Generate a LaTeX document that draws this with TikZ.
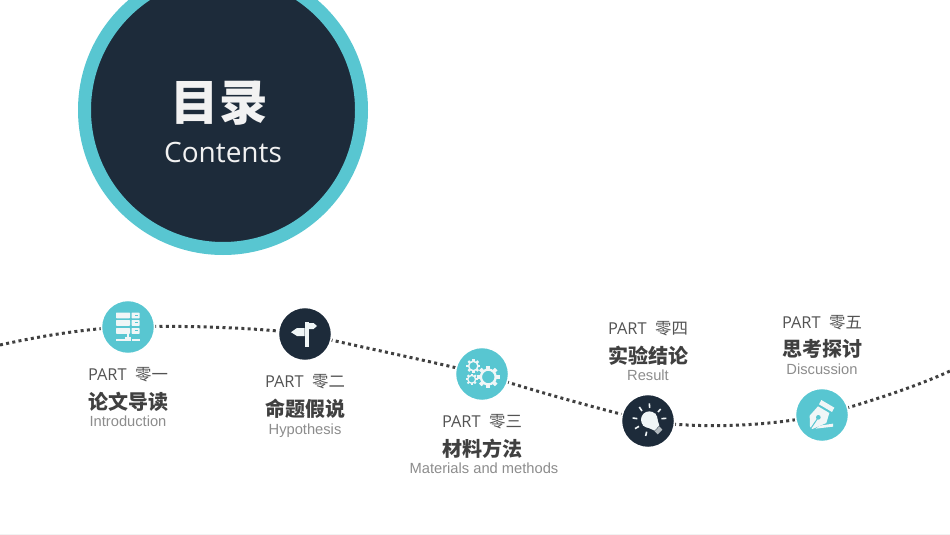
\documentclass[tikz,border=0pt]{standalone}
\usepackage{fontspec}
\setmainfont{Liberation Sans}
\newfontfamily\cjk{Noto Sans CJK SC}
\newfontfamily\lat{Open Sans}
\usetikzlibrary{backgrounds}
\definecolor{teal}{HTML}{58C6D1}
\definecolor{navy}{HTML}{1D2B3A}
\definecolor{ink}{HTML}{404040}
\definecolor{soft}{HTML}{8C8C8C}
\definecolor{iconw}{HTML}{F0F6F7}
\tikzset{
  x=1pt,y=-1pt,
  dotline/.style={draw=ink,line width=3pt,dash pattern=on 3pt off 3.3pt},
  marker/.style={circle,minimum size=53.2pt,inner sep=0pt,draw=white,line width=1.6pt},
  tealmark/.style={marker,fill=teal},
  navymark/.style={marker,fill=navy},
  parttxt/.style={inner sep=0pt,text=ink!90,font=\fontsize{16.4}{16.4}\selectfont},
  headtxt/.style={inner sep=0pt,text=ink,font=\cjk\bfseries\fontsize{20}{20}\selectfont},
  engtxt/.style={inner sep=0pt,anchor=base,text=soft,font=\fontsize{14.7}{14.7}\selectfont},
  ray/.style={draw=iconw,line width=1.6pt}
}
\newcommand{\partblock}[6]{% name x yPart yHead num head
  \node[parttxt] (#1p) at (#2,#3) {\lat PART\ \ {\cjk #5}};
  \node[headtxt] (#1h) at (#2,#4) {#6};
}
\newcommand{\gearshape}[5]{% x y rOuter rMid width
  \foreach \ang in {0,45,...,315}{
    \fill[iconw,rotate around={\ang:(#1,#2)}] (#1-#5*.8,#2-#3) rectangle (#1+#5*.8,#2-#4);
  }
  \draw[iconw,line width=#5*1pt] (#1,#2) circle[radius=#4];
}
\begin{document}
\begin{tikzpicture}
\useasboundingbox (0,0) rectangle (950,535);
\fill[black!5] (0,533.6) rectangle (950,535);
\begin{scope}
  \clip (0,0) rectangle (950,535);
  \node[circle,fill=navy,draw=teal,line width=13pt,minimum size=277pt,inner sep=0pt] (big) at (223,110) {};
\end{scope}
\node[inner sep=0pt,text=white!95!black,font=\cjk\bfseries\fontsize{48.5}{48.5}\selectfont] (titlecn) at (219,103) {目录};
\node[inner sep=0pt,text=white!95!black,font=\lat\fontsize{28}{28}\selectfont] (titleen) at (223,152.5) {Contents};

\node[tealmark] (n1) at (128,327) {};
\node[navymark] (n2) at (305,334) {};
\node[tealmark] (n3) at (482,374) {};
\node[navymark] (n4) at (648,421) {};
\node[tealmark] (n5) at (822,415) {};
\coordinate (startc) at (0,345);
\coordinate (endc) at (950,371);

\begin{scope}[on background layer]
  \draw[dotline] (startc) .. controls (40,336) and (90,328) .. (n1.center);
  \draw[dotline] (n1.center) .. controls (190,325) and (260,328) .. (n2.center);
  \draw[dotline] (n2.center) .. controls (360,347) and (430,361) .. (n3.center);
  \draw[dotline] (n3.center) .. controls (530,390) and (600,409) .. (n4.center);
  \draw[dotline] (n4.center) .. controls (690,428) and (760,428) .. (n5.center);
  \draw[dotline] (n5.center) .. controls (870,402) and (920,385) .. (endc);
\end{scope}

% server icon
\foreach \yy in {312.5,320,328}{
  \fill[iconw,rounded corners=.6pt] (116,\yy) rectangle (130,\yy+5.8);
  \fill[iconw,rounded corners=.6pt] (131.6,\yy) rectangle (139.6,\yy+5.8);
  \fill[teal] (134.5,\yy+2) rectangle (137.8,\yy+3.2);
}
\fill[iconw] (126.8,333) rectangle (129,338);
\fill[iconw] (116,338.6) rectangle (125,340.6);
\fill[iconw] (124.5,337.4) rectangle (131,341.2);
\fill[iconw] (131.6,338.6) rectangle (139.6,340.6);

% signpost icon
\fill[iconw] (304.5,322) rectangle (308.7,347);
\fill[iconw] (304.7,328) -- (297,328) -- (291,332.2) -- (297,336) -- (304.7,336) -- cycle;
\fill[iconw] (308.7,323) -- (313.5,323) -- (317,326) -- (313.5,329) -- (308.7,329) -- cycle;

% gears icon
\gearshape{488.3}{377}{11.2}{7.4}{2.3}
\gearshape{473.3}{366}{7}{4.7}{1.5}
\gearshape{471.7}{379.3}{5.8}{3.9}{1.3}

% bulb icon
\begin{scope}[shift={(616,388)},x=.3333pt,y=-.3333pt]
  \fill[iconw] (100,95) circle[radius=25];
  \fill[iconw] (80,112) -- (118,76) -- (130,112) -- (116,128) -- cycle;
  \fill[iconw!70!navy] (116,130) -- (130,115) -- (139,125) -- (125,139) -- cycle;
  \draw[ray] (100,46) -- (101,60);
  \draw[ray] (70,57) -- (78,69);
  \draw[ray] (134,63) -- (126,72);
  \draw[ray] (50,90) -- (64,92);
  \draw[ray] (57,122) -- (69,115);
  \draw[ray] (89,144) -- (92,131);
  \draw[ray] (136,92) -- (151,91);
\end{scope}

% pen nib icon
\begin{scope}[shift={(789,382)},x=.3333pt,y=-.3333pt]
  \fill[iconw] (97,54) -- (136,77) -- (129,90) -- (90,67) -- cycle;
  \fill[iconw] (87,73) -- (121,93) -- (112,123) -- (70,141) -- (63,134) -- (62,101) -- cycle;
  \fill[teal] (88,106) circle[radius=7];
  \draw[teal,line width=1pt] (88,106) -- (67,137);
  \fill[iconw] (92,131) -- (132,125) -- (132,134) -- (80,140) -- cycle;
\end{scope}

\partblock{a}{128}{375}{401.5}{零一}{论文导读}
\node[engtxt] (ae) at (128,426.5) {Introduction};
\partblock{b}{305}{382}{408.5}{零二}{命题假说}
\node[engtxt] (be) at (305,434.5) {Hypothesis};
\partblock{c}{482}{422}{448.5}{零三}{材料方法}
\node[engtxt] (ce) at (484,473.5) {Materials and methods};
\partblock{d}{648}{329}{355.5}{零四}{实验结论}
\node[engtxt] (de) at (648,380.5) {Result};
\partblock{e}{822}{323}{348.5}{零五}{思考探讨}
\node[engtxt] (ee) at (822,374) {Discussion};
\end{tikzpicture}
\end{document}
